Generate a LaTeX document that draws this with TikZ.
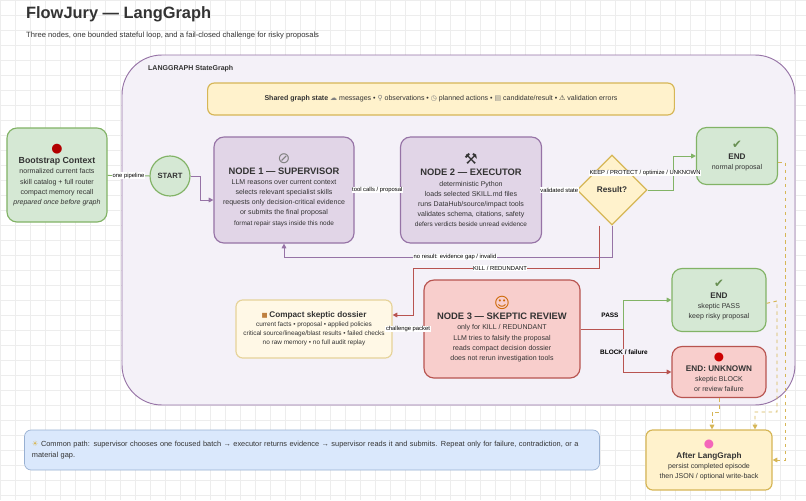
\documentclass[tikz,border=0pt]{standalone}
\usepackage{fontspec}
\setmainfont{Liberation Sans}
\newfontfamily\sym{DejaVu Sans}
\usetikzlibrary{shapes.geometric,arrows.meta}
\definecolor{gridc}{HTML}{EDEDED}
\definecolor{purpF}{HTML}{E1D5E7}
\definecolor{purpD}{HTML}{9673A6}
\definecolor{greenF}{HTML}{D5E8D4}
\definecolor{greenD}{HTML}{82B366}
\definecolor{redF}{HTML}{F8CECC}
\definecolor{redD}{HTML}{B85450}
\definecolor{yelF}{HTML}{FFF2CC}
\definecolor{yelD}{HTML}{D6B656}
\definecolor{blueF}{HTML}{DAE8FC}
\definecolor{blueD}{HTML}{6C8EBF}
\definecolor{bgc}{HTML}{F4F1F8}
\definecolor{txt}{HTML}{333333}
\newcommand{\ico}[2]{{\fontsize{#1}{#1}\selectfont\sym #2}\\[1pt]}

\begin{document}
\begin{tikzpicture}[x=0.03cm,y=-0.03cm,
    every node/.style={font=\fontsize{6}{8.6}\selectfont, text=txt, align=center},
    box/.style={draw, rounded corners=0.3cm, line width=1pt},
    sup/.style={box, fill=purpF, draw=purpD},
    grn/.style={box, fill=greenF, draw=greenD},
    rd/.style={box, fill=redF, draw=redD},
    yel/.style={box, fill=yelF, draw=yelD, rounded corners=0.2cm},
    lbl/.style={fill=white, inner sep=0.5pt, font=\fontsize{5}{6}\selectfont, text=black},
    edge/.style={-{Triangle[length=4pt,width=4pt]}, line width=0.8pt}]
  % Fondo
  \useasboundingbox (0,0) rectangle (806,500);
  \fill[white] (0,0) rectangle (806,500);
  \draw[gridc, step=0.45cm] (0,0) grid (806,500);
  \node[anchor=west, font=\fontsize{14}{16}\bfseries\selectfont] (title) at (22,14) {FlowJury — LangGraph};
  \node[anchor=west, font=\fontsize{6.5}{8}\selectfont] (sub) at (22,36) {Three nodes, one bounded stateful loop, and a fail-closed challenge for risky proposals};
  \draw[purpD, fill=bgc, line width=0.8pt, rounded corners=1.2cm] (122,55) rectangle (795,405);
  \node[anchor=west, font=\fontsize{6}{8}\bfseries\selectfont] (lg) at (144,69) {LANGGRAPH StateGraph};

  % Nodos
  \node[yel, minimum width=14.0cm, minimum height=0.96cm] (state) at (441,99)
    {\textbf{Shared graph state} {\sym\color{gray}☁} messages • {\sym\color{gray}⚲} observations • {\sym\color{gray}◷} planned actions • {\sym\color{gray}▤} candidate/result • {\sym⚠} validation errors};
  \node[grn, minimum width=3cm, minimum height=2.82cm] (boot) at (57,175)
    {\ico{11}{\color{red!70!black}●}{\fontsize{7.5}{9}\bfseries\selectfont Bootstrap Context}\\normalized current facts\\skill catalog + full router\\compact memory recall\\\textit{prepared once before graph}};
  \node[draw=greenD, fill=greenF, circle, line width=1pt, minimum size=1.2cm, font=\fontsize{6.5}{8}\bfseries\selectfont] (start) at (170,176) {START};
  \node[sup, minimum width=4.2cm, minimum height=3.18cm] (super) at (284,190)
    {\ico{13}{\color{gray}⊘}{\fontsize{8}{10}\bfseries\selectfont NODE 1 — SUPERVISOR}\\LLM reasons over current context\\selects relevant specialist skills\\requests only decision-critical evidence\\or submits the final proposal\\{\fontsize{5.5}{8}\selectfont format repair stays inside this node}};
  \node[sup, minimum width=4.23cm, minimum height=3.18cm] (exec) at (471,190)
    {\ico{13}{⚒}{\fontsize{8}{10}\bfseries\selectfont NODE 2 — EXECUTOR}\\deterministic Python\\loads selected SKILL.md files\\runs DataHub/source/impact tools\\validates schema, citations, safety\\{\fontsize{5.5}{8}\selectfont defers verdicts beside unread evidence}};
  \node[draw=yelD, fill=yelF, diamond, line width=1pt, minimum width=2.1cm, minimum height=2.1cm, inner sep=0pt, font=\fontsize{7}{8}\bfseries\selectfont] (res) at (612,190) {Result?};
  \node[grn, minimum width=2.43cm, minimum height=1.71cm] (endok) at (737,156)
    {\ico{10}{\color{greenD!80!black}✔}{\fontsize{7}{8}\bfseries\selectfont END}\\normal proposal};
  \node[rd, minimum width=4.68cm, minimum height=2.94cm] (skep) at (502,329)
    {\ico{13}{\color{orange!80!black}☺}{\fontsize{8}{10}\bfseries\selectfont NODE 3 — SKEPTIC REVIEW}\\only for KILL / REDUNDANT\\LLM tries to falsify the proposal\\reads compact decision dossier\\does not rerun investigation tools};
  \node[yel, fill=yelF!50, draw=yelD!60, minimum width=4.68cm, minimum height=1.74cm, font=\fontsize{5.5}{7.6}\selectfont] (doss) at (314,329)
    {{\sym\color{brown}■} {\fontsize{7}{9}\bfseries\selectfont Compact skeptic dossier}\\current facts • proposal • applied policies\\critical source/lineage/blast results • failed checks\\no raw memory • no full audit replay};
  \node[grn, minimum width=2.82cm, minimum height=1.89cm] (endpass) at (719,300)
    {\ico{10}{\color{greenD!80!black}✔}{\fontsize{7}{8}\bfseries\selectfont END}\\skeptic PASS\\keep risky proposal};
  \node[rd, minimum width=2.82cm, minimum height=1.53cm] (endunk) at (719,372)
    {\ico{10}{\color{red!80!black}●}{\fontsize{7}{8}\bfseries\selectfont END: UNKNOWN}\\skeptic BLOCK\\or review failure};
  \node[yel, minimum width=3.78cm, minimum height=1.8cm] (after) at (709,460)
    {\ico{10}{\color{magenta!60}●}{\fontsize{7}{8}\bfseries\selectfont After LangGraph}\\persist completed episode\\then JSON / optional write-back};
  \node[box, fill=blueF, draw=blueD!70, rounded corners=0.2cm, line width=0.6pt, minimum width=17.25cm, minimum height=1.2cm, text width=16.8cm, align=left, font=\fontsize{6.3}{9}\selectfont] (note) at (312,450)
    {{\sym\color{yelD}☀} Common path: supervisor chooses one focused batch → executor returns evidence → supervisor reads it and submits. Repeat only for failure, contradiction, or a material gap.};
  \coordinate (k1) at (599,268);
  \coordinate (k2) at (413,268);
  \coordinate (k3) at (413,315);
  \coordinate (d1) at (777,301);
  \coordinate (d2) at (777,412);
  \coordinate (d3) at (755,412);
  \coordinate (u1) at (719,412);
  \coordinate (u2) at (712,412);

  % Aristas
  \draw[greenD, line width=0.8pt] (boot) -- node[lbl] {one pipeline} (start);
  \draw[edge, purpD] (start.east) -- ++(10,0) |- ([yshift=-0.3cm]super.west);
  \draw[edge, purpD] (super) -- node[lbl] {tool calls / proposal} (exec);
  \draw[edge, purpD] (exec) -- node[lbl] {validated state} (res);
  \draw[edge, greenD] (res.east) -- ++(26,0) |- (endok.west);
  \node[lbl] (keep) at (645,173) {KEEP / PROTECT / optimize / UNKNOWN};
  \draw[edge, purpD] (res.south) -- ++(0,32) -| (super.south);
  \node[lbl] (nores) at (455,257) {no result: evidence gap / invalid};
  \draw[edge, redD] (res.south -| k1) -- (k1) -- (k2) -- (k3) -- (k3 -| doss.east);
  \node[lbl] (kill) at (500,268) {KILL / REDUNDANT};
  \draw[redD, line width=0.8pt] (skep.west) -- node[lbl] {challenge packet} (doss.east);
  \draw[edge, greenD] (skep.east) -- ++(43,0) |- (endpass.west);
  \node[font=\fontsize{5.5}{6}\bfseries\selectfont, text=black] (pass) at (610,315) {PASS};
  \draw[edge, redD] (skep.east) -- ++(43,0) |- (endunk.west);
  \node[font=\fontsize{5.5}{6}\bfseries\selectfont, text=black, fill=bgc, inner sep=0.5pt] (block) at (624,352) {BLOCK / failure};
  \draw[edge, yelD, dashed] ([yshift=-0.2cm]endok.east) -- ++(7,0) |- (after.east);
  \draw[edge, yelD, dashed] ([yshift=-0.1cm]endpass.east) -- (d1) -- (d2) -- (d3) -- (d3 |- after.north);
  \draw[edge, yelD, dashed] (endunk.south) -- (u1) -- (u2) -- (u2 |- after.north);
\end{tikzpicture}
\end{document}
